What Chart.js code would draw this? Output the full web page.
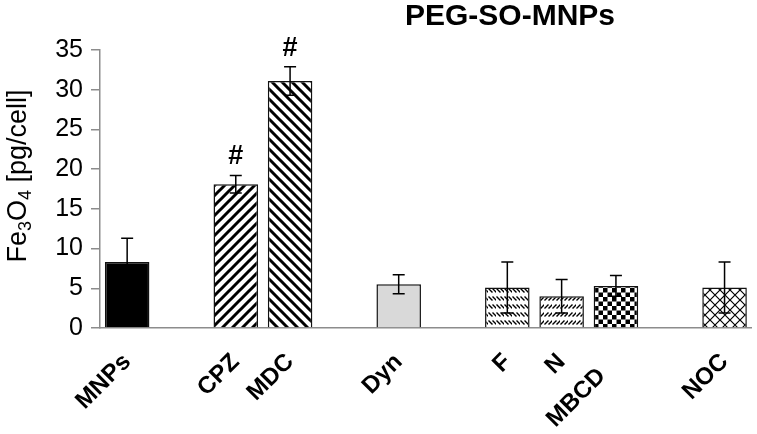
<!DOCTYPE html>
<html>
<head>
<meta charset="utf-8">
<script src="https://cdn.jsdelivr.net/npm/chart.js@4.4.0/dist/chart.umd.min.js"></script>
<style>
  html, body { margin: 0; padding: 0; background: #fff; }
  #wrap { width: 757px; height: 434px; position: relative; }
</style>
</head>
<body>
<div id="wrap"><canvas id="uptakeChart"></canvas></div>
<script>
// Datos (las categorías vacías dejan los huecos entre grupos)
const categories = ['MNPs', '', 'CPZ', 'MDC', '', 'Dyn', '', 'F', 'N', 'MBCD\u00a0\u00a0\u00a0', '', 'NOC'];
const uptake = [8.3, null, 18.1, 31.1, null, 5.5, null, 5.1, 4.0, 5.3, null, 5.1];
const errors = [3.0, null, 1.1, 1.8, null, 1.2, null, 3.2, 2.1, 1.3, null, 3.2];
const marks = ['', '', '#', '#', '', '', '', '', '', '', '', ''];
const yTicks = [0, 5, 10, 15, 20, 25, 30, 35];
const chartTitle = 'PEG-SO-MNPs';

// Tramas de relleno estilo Excel
function makePattern(type) {
    const c = document.createElement('canvas');
    const g = c.getContext('2d');
    let s = 10;
    if (type === 'dashDown' || type === 'dashUp') s = 8;
    if (type === 'checker') s = 9;
    c.width = s; c.height = s;
    g.fillStyle = '#fff';
    g.fillRect(0, 0, s, s);
    g.strokeStyle = '#000';
    g.fillStyle = '#000';
    g.lineCap = 'square';
    if (type === 'up') {
        g.lineWidth = 3;
        g.beginPath();
        g.moveTo(-2, s + 2); g.lineTo(s + 2, -2);
        g.moveTo(-2, 2); g.lineTo(2, -2);
        g.moveTo(s - 2, s + 2); g.lineTo(s + 2, s - 2);
        g.stroke();
    } else if (type === 'down') {
        g.lineWidth = 3;
        g.beginPath();
        g.moveTo(-2, -2); g.lineTo(s + 2, s + 2);
        g.moveTo(s - 2, -2); g.lineTo(s + 2, 2);
        g.moveTo(-2, s - 2); g.lineTo(2, s + 2);
        g.stroke();
    } else if (type === 'dashDown') {
        g.lineWidth = 1.4;
        g.beginPath();
        g.moveTo(1, 1); g.lineTo(4, 4);
        g.moveTo(5, 1); g.lineTo(8, 4);
        g.stroke();
    } else if (type === 'dashUp') {
        g.lineWidth = 1.4;
        g.beginPath();
        g.moveTo(1, 4); g.lineTo(4, 1);
        g.moveTo(5, 4); g.lineTo(8, 1);
        g.stroke();
    } else if (type === 'checker') {
        g.fillRect(0, 0, 4.5, 4.5);
        g.fillRect(4.5, 4.5, 4.5, 4.5);
    } else if (type === 'cross') {
        g.lineWidth = 1.2;
        g.beginPath();
        g.moveTo(0, 0); g.lineTo(s, s);
        g.moveTo(0, s); g.lineTo(s, 0);
        g.stroke();
    }
    return g.createPattern(c, 'repeat');
}

const fillTypes = ['solid', null, 'up', 'down', null, 'gray', null, 'dashDown', 'dashUp', 'checker', null, 'cross'];
const barColors = fillTypes.map(t => {
    if (t === 'solid') return '#000';
    if (t === 'gray') return '#d9d9d9';
    if (!t) return 'rgba(0,0,0,0)';
    return makePattern(t);
});

// Barras de error y marcas '#'
const errorBarPlugin = {
    id: 'errorBars',
    afterDatasetsDraw(chart) {
        const ctx = chart.ctx;
        const yScale = chart.scales.y;
        const meta = chart.getDatasetMeta(0);
        ctx.save();
        ctx.strokeStyle = '#000';
        ctx.lineWidth = 1.5;
        meta.data.forEach((bar, i) => {
            const v = uptake[i], e = errors[i];
            if (v === null || e === null) return;
            const x = bar.x;
            const yTop = yScale.getPixelForValue(v + e);
            const yBot = yScale.getPixelForValue(v - e);
            ctx.beginPath();
            ctx.moveTo(x, yTop); ctx.lineTo(x, yBot);
            ctx.moveTo(x - 6, yTop); ctx.lineTo(x + 6, yTop);
            ctx.moveTo(x - 6, yBot); ctx.lineTo(x + 6, yBot);
            ctx.stroke();
            if (marks[i]) {
                ctx.fillStyle = '#000';
                ctx.font = 'bold 27px "Liberation Sans", Arial, sans-serif';
                ctx.textAlign = 'center';
                ctx.textBaseline = 'bottom';
                ctx.fillText(marks[i], x, yTop - 5);
            }
        });
        ctx.restore();
    }
};

// Título y eje Y con subíndices
const textPlugin = {
    id: 'extraText',
    afterDraw(chart) {
        const ctx = chart.ctx;
        ctx.save();
        ctx.fillStyle = '#000';
        ctx.font = 'bold 30px "Liberation Sans", Arial, sans-serif';
        ctx.textAlign = 'center';
        ctx.textBaseline = 'middle';
        ctx.fillText(chartTitle, 510, 17);

        const parts = [['Fe', false], ['3', true], ['O', false], ['4', true], [' [pg/cell]', false]];
        const big = '27px "Liberation Sans", Arial, sans-serif';
        const small = '18px "Liberation Sans", Arial, sans-serif';
        let total = 0;
        parts.forEach(p => { ctx.font = p[1] ? small : big; total += ctx.measureText(p[0]).width; });
        ctx.translate(26, 176);
        ctx.rotate(-Math.PI / 2);
        ctx.textAlign = 'left';
        ctx.textBaseline = 'alphabetic';
        let cx = -total / 2;
        parts.forEach(p => {
            ctx.font = p[1] ? small : big;
            ctx.fillText(p[0], cx, p[1] ? 5 : 0);
            cx += ctx.measureText(p[0]).width;
        });
        ctx.restore();
    }
};

const ctx = document.getElementById('uptakeChart');
new Chart(ctx, {
    type: 'bar',
    data: {
        labels: categories,
        datasets: [{
            data: uptake,
            backgroundColor: barColors,
            borderColor: '#111',
            borderWidth: 1.5,
            barPercentage: 0.82,
            categoryPercentage: 1.0
        }]
    },
    options: {
        responsive: true,
        maintainAspectRatio: false,
        animation: false,
        layout: { padding: { top: 50, right: 2, left: 0, bottom: 0 } },
        plugins: {
            legend: { display: false },
            tooltip: { enabled: false }
        },
        scales: {
            x: {
                grid: { display: false },
                border: { display: true, color: '#8c8c8c', width: 1.5 },
                ticks: {
                    autoSkip: false,
                    maxRotation: 45,
                    minRotation: 45,
                    padding: 12,
                    color: '#000',
                    font: { family: '"Liberation Sans", Arial, sans-serif', size: 24, weight: 'bold' }
                },
                afterFit(scale) { scale.height = 106; }
            },
            y: {
                min: 0,
                max: 35,
                afterBuildTicks(scale) { scale.ticks = yTicks.map(v => ({ value: v })); },
                grid: { display: true, drawOnChartArea: false, drawTicks: true, tickLength: 9, color: '#8c8c8c', lineWidth: 1.5 },
                border: { display: true, color: '#8c8c8c', width: 1.5 },
                ticks: {
                    padding: 8,
                    color: '#000',
                    font: { family: '"Liberation Sans", Arial, sans-serif', size: 25 }
                },
                afterFit(scale) { scale.width = 100; }
            }
        }
    },
    plugins: [errorBarPlugin, textPlugin]
});
</script>
</body>
</html>
